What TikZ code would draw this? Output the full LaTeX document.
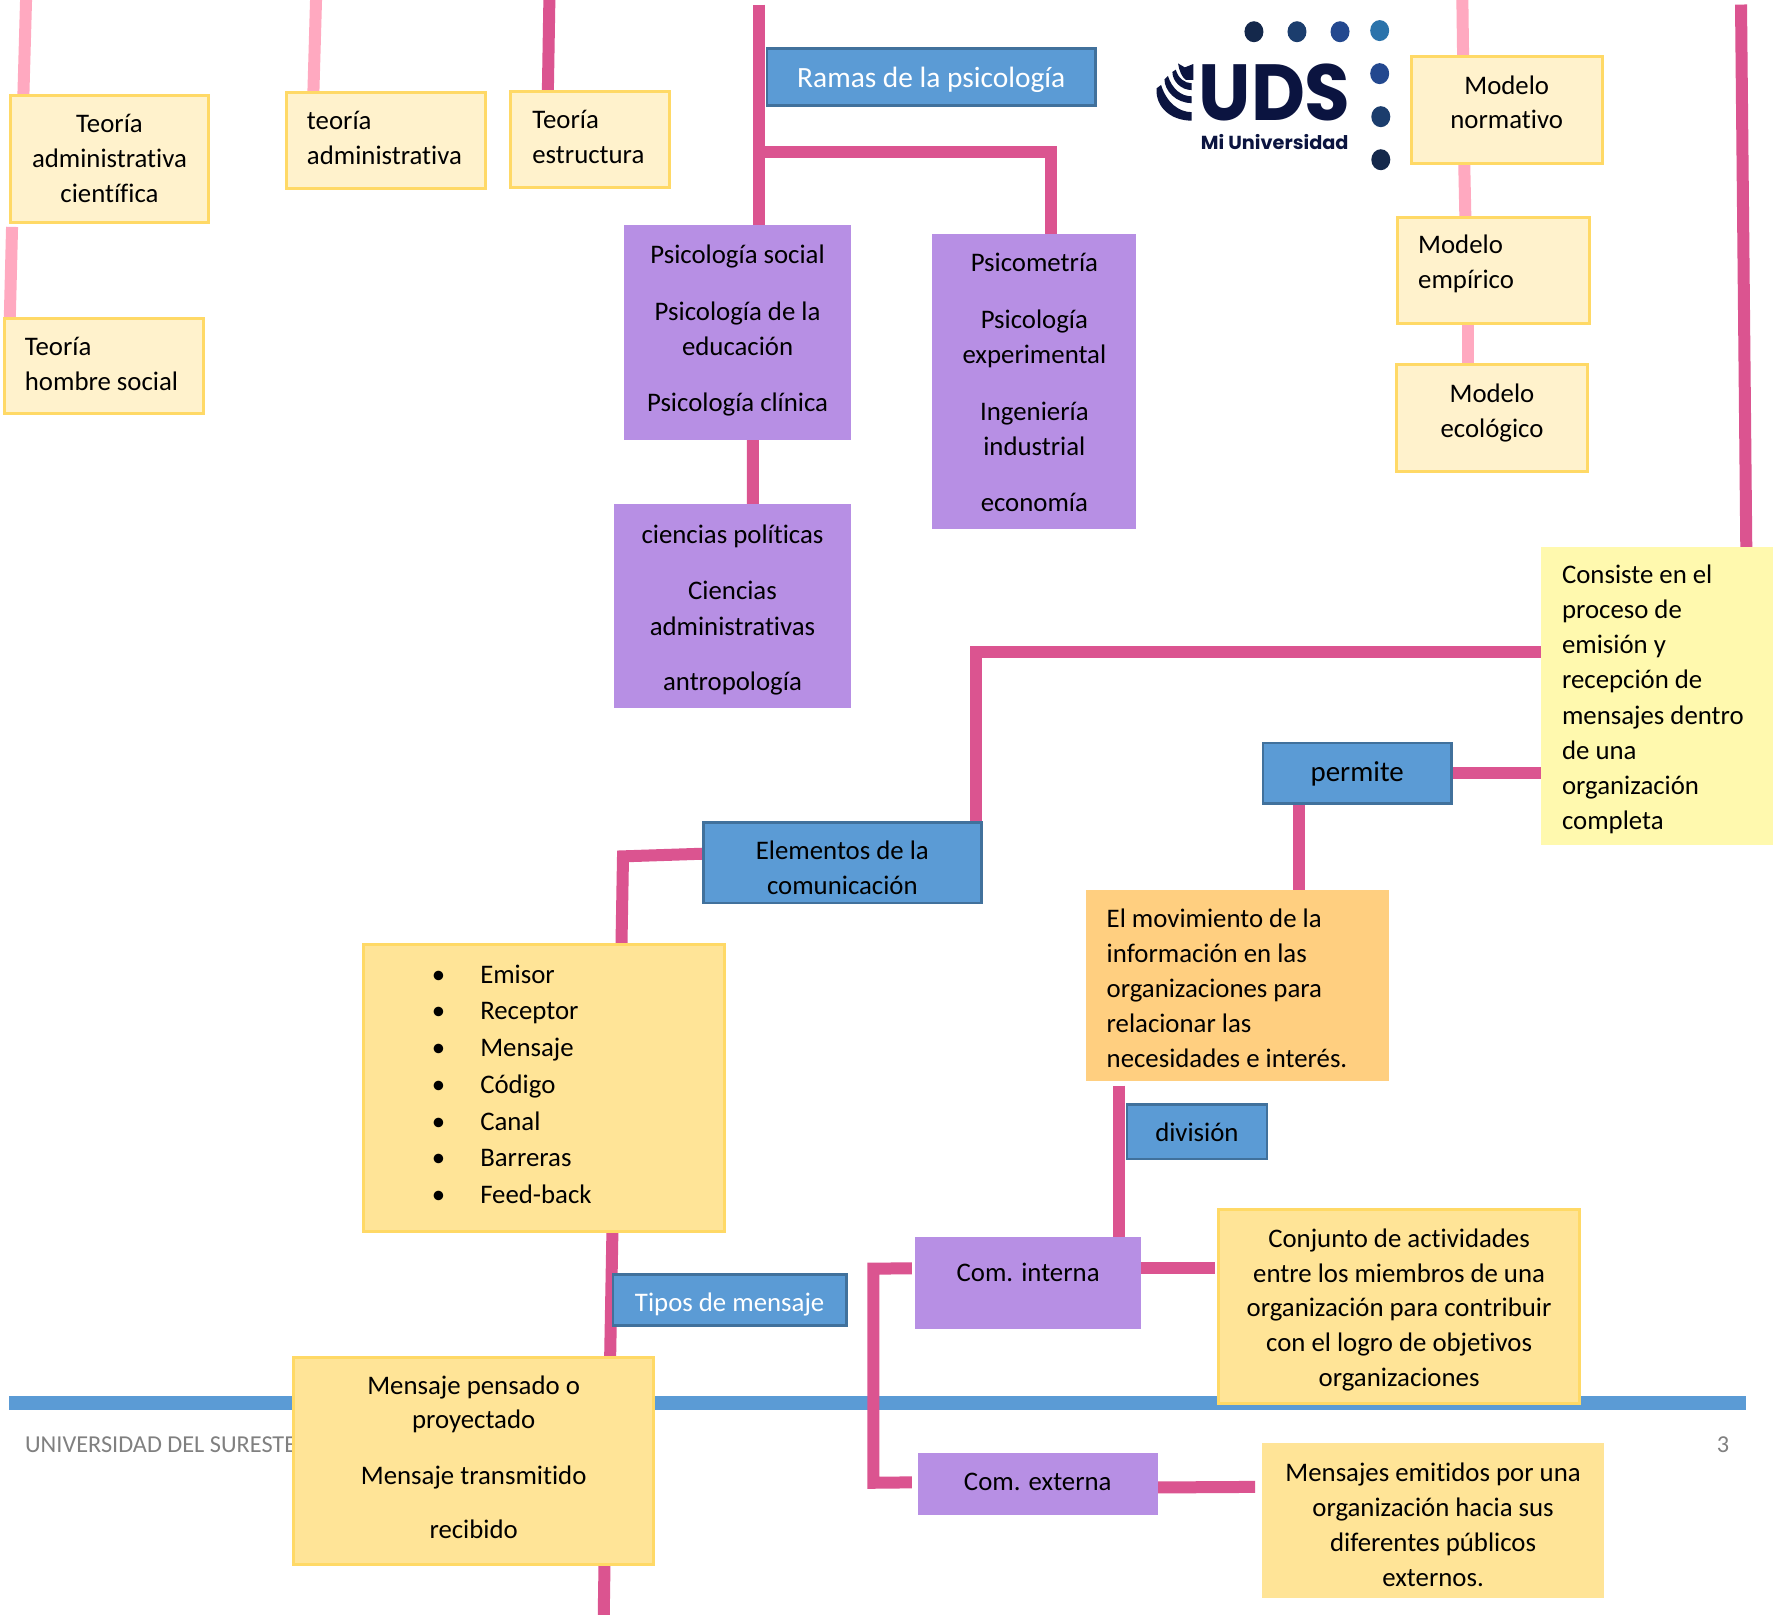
\documentclass[tikz,border=0pt]{standalone}
\usepackage{fontspec}
\setmainfont[Ligatures=NoCommon]{Carlito}
\newfontfamily\logofont{Poppins}
\usetikzlibrary{calc,backgrounds,shapes.geometric}
\newcommand\lf[1]{\raggedright\pgfmathparse{#1*1.13274}\leftskip=\pgfmathresult pt\relax}
\newcommand\bul{\leavevmode\llap{•\hspace{35pt}}}
\newcommand\bx[9]{%
  \pgfmathsetmacro\bxW{(#5-#3-0.7)*1.13274}%
  \pgfmathsetmacro\bxH{(#6-#4-0.7)*1.13274}%
  \pgfmathsetmacro\bxP{(#7-#4)*1.13274}%
  \node[#2,minimum width=\bxW pt,minimum height=\bxH pt,inner sep=0pt,outer sep=0pt] (#1) at ({(#3+#5-0.7)/2},{(#4+#6-0.7)/2})
  {\begin{minipage}[c][\bxH pt][t]{\bxW pt}\fontsize{26.8}{35.2}\selectfont #8\rule{0pt}{\bxP pt}#9\end{minipage}};}
\definecolor{pale}{HTML}{FFF2CC}
\definecolor{gold}{HTML}{FFD966}
\definecolor{blu}{HTML}{5B9BD5}
\definecolor{blud}{HTML}{41719C}
\definecolor{purp}{HTML}{B78FE4}
\definecolor{lem}{HTML}{FFF9AE}
\definecolor{org}{HTML}{FFCF80}
\definecolor{yel}{HTML}{FFE497}
\definecolor{rosa}{HTML}{FFA9C0}
\definecolor{mag}{HTML}{DB5490}
\definecolor{navy}{HTML}{0B1440}
\tikzset{
  palebox/.style={fill=pale,draw=gold,line width=3pt},
  yelbox/.style={fill=yel,draw=gold,line width=3pt},
  yelflat/.style={fill=yel},
  bluebox/.style={fill=blu,draw=blud,line width=2.5pt},
  purpbox/.style={fill=purp},
  lembox/.style={fill=lem},
  orgbox/.style={fill=org},
  lnp/.style={draw=rosa,line width=12pt},
  lnm/.style={draw=mag,line width=12pt,line join=miter},
  dotc/.style={ellipse,minimum width=19pt,minimum height=21pt,inner sep=0pt}
}
\begin{document}
\begin{tikzpicture}[x=1.13274pt,y=-1.13274pt]
\useasboundingbox (0,0) rectangle (1567,1425.7);
% footer
\node[anchor=base west,inner sep=0pt,text=black!50] (foot) at (22,1282.5) {\fontsize{24.3}{28}\selectfont UNIVERSIDAD DEL SURESTE};
\node[anchor=base,inner sep=0pt,text=black!50] (pnum) at (1521,1282.5) {\fontsize{24.3}{28}\selectfont 3};
% boxes
\bx{tA}{palebox}{9}{84}{185}{197}{117}{\centering}{Teoría\\administrativa\\científica}
\bx{tB}{palebox}{253}{82}{429}{167}{114}{\lf{18}}{teoría\\administrativa}
\bx{tC}{palebox}{451}{81}{592}{166}{113}{\lf{19}}{Teoría\\estructura}
\bx{tD}{palebox}{4}{281}{180}{366}{314}{\lf{18}}{Teoría\\hombre social}
\bx{ramas}{bluebox,text=white}{677}{43}{968}{94}{77}{\centering\fontsize{29.4}{35}\selectfont}{Ramas de la psicología}
\bx{mA}{palebox}{1246}{50}{1415}{145}{83}{\centering\baselineskip=34.5pt\relax}{Modelo\\normativo}
\bx{mB}{palebox}{1234}{192}{1404}{286}{224}{\lf{18}}{Modelo\\empírico}
\bx{mC}{palebox}{1233}{322}{1402}{417}{355}{\centering}{Modelo\\ecológico}
\bx{psoc}{purpbox}{551}{199}{752}{389}{233}{\centering}{Psicología social\\[21pt]Psicología de la\\educación\\[21pt]Psicología clínica}
\bx{psm}{purpbox}{823}{207}{1004}{468}{240}{\centering}{Psicometría\\[21pt]Psicología\\experimental\\[22pt]Ingeniería\\industrial\\[21pt]economía}
\bx{cpol}{purpbox}{542}{445}{752}{626}{480}{\centering}{ciencias políticas\\[21pt]Ciencias\\administrativas\\[20pt]antropología}
\bx{cons}{lembox}{1360}{483}{1566}{747}{515}{\lf{19}}{Consiste en el\\proceso de\\emisión y\\recepción de\\mensajes dentro\\de una\\organización\\completa}
\bx{perm}{bluebox}{1115}{656}{1282}{710}{690}{\centering\fontsize{28.9}{35}\selectfont}{permite}
\bx{elem}{bluebox}{621}{726}{867}{798}{758.5}{\centering}{Elementos de la\\comunicación}
\bx{mov}{orgbox}{959}{786}{1227}{955}{818.5}{\lf{18}}{El movimiento de la\\información en las\\organizaciones para\\relacionar las\\necesidades e interés.}
\bx{divi}{bluebox}{995}{975}{1119}{1024}{1007.5}{\centering}{división}
\bx{lst}{yelbox}{321}{834}{640}{1088}{868}{\lf{103}\baselineskip=36.7pt\relax}{\bul Emisor\\\bul Receptor\\\bul Mensaje\\\bul Código\\\bul Canal\\\bul Barreras\\\bul Feed-back}
\bx{tipos}{bluebox,text=white}{541}{1125}{748}{1171}{1157.5}{\centering}{Tipos de mensaje}
\bx{men}{yelbox}{259}{1198}{578}{1382}{1231}{\centering\baselineskip=34.5pt\relax}{Mensaje pensado o\\proyectado\\[21pt]Mensaje transmitido\\[20pt]recibido}
\bx{cint}{purpbox}{808}{1092}{1008}{1174}{1131}{\centering}{Com. interna}
\bx{conj}{yelbox}{1076}{1068}{1395}{1240}{1101}{\centering\baselineskip=34.9pt\relax}{Conjunto de actividades\\entre los miembros de una\\organización para contribuir\\con el logro de objetivos\\organizaciones}
\bx{cext}{purpbox}{810}{1283}{1023}{1338}{1315.5}{\centering}{Com. externa}
\bx{memi}{yelflat}{1114}{1274}{1417}{1411}{1307.5}{\centering}{Mensajes emitidos por una\\organización hacia sus\\diferentes públicos\\externos.}
% logo
\foreach \n/\x/\y/\c in {a/1107/28/14284B,b/1145/28/1B3D6D,c/1183/28/23488F,d/1218/27/2B73AB,e/1218/65/23488F,f/1219/103/1B3D6D,g/1219/141/14284B}{
  \definecolor{tmpc}{HTML}{\c}
  \node[dotc,fill=tmpc] (dot\n) at (\x,\y) {};
}
\node[anchor=base west,inner sep=0pt,text=navy] (uds) at (1058,106) {\resizebox{152pt}{56.6pt}{\logofont\bfseries UDS}};
\node[anchor=base west,inner sep=0pt,text=navy] (miu) at (1060,132.4) {\resizebox{147.6pt}{15.1pt}{\logofont\bfseries Mi Universidad}};
\fill[navy] (1021,78) .. controls (1020,95) and (1034,106.5) .. (1052,106.5) -- (1052,99) .. controls (1041,99) and (1030,91) .. (1025,75) -- cycle;
\fill[navy] (1028,70) .. controls (1028,80) and (1038,91) .. (1052,91) -- (1052,85) .. controls (1043,85) and (1035,79) .. (1031,67) -- cycle;
\fill[navy] (1035,63.5) .. controls (1035,72) and (1043,79.5) .. (1052,79.5) -- (1052,73.5) .. controls (1046,73.5) and (1040,69) .. (1038,61.5) -- cycle;
\fill[navy] (1040,56) -- (1046,59.5) -- (1053.5,56.5) -- (1053.5,70.6) -- (1047,70.6) .. controls (1043,68) and (1041,62) .. (1040,56) -- cycle;
% connectors
\begin{scope}[on background layer]
\fill[white] (0,0) rectangle (1567,1425.7);
\fill[blu] (8,1232) rectangle (1541,1245);
\coordinate (f1) at (23,0);
\coordinate (f2) at (279,0);
\coordinate (f3) at (485,0);
\coordinate (f4) at (670,4);
\coordinate (f5) at (1291,0);
\coordinate (f6) at (1537,4);
\coordinate (f7) at (533,1426);
\draw[lnp] (f1) -- ($(tA.north)+(-76,0)$);
\draw[lnp] ($(tA.south)+(-86,4)$) -- ($(tD.north)+(-83,0)$);
\draw[lnp] (f2) -- ($(tB.north)+(-64,0)$);
\draw[lnm] (f3) -- ($(tC.north)+(-37.5,0)$);
\draw[lnm] (f4) -- (f4 |- psoc.north);
\draw[lnm] ($(f4)+(5,130)$) -| ($(psm.north)+(14.5,0)$);
\draw[lnm] ($(psoc.south)+(13.5,0)$) -- ($(cpol.north)+(18,0)$);
\draw[lnp] (f5) -- ($(mA.north)+(-38.5,0)$);
\draw[lnp] ($(mA.south)+(-37.5,0)$) -- ($(mB.north)+(-25,0)$);
\draw[lnp] ($(mB.south)+(-23,0)$) -- ($(mC.north)+(-21.5,0)$);
\draw[lnm] (f6) -- ($(cons.north)+(79,0)$);
\draw[lnm] ($(cons.west)+(0,-39)$) -| ($(elem.north)+(118,0)$);
\draw[lnm] (perm.east) -- (perm.east -| cons.west);
\draw[lnm] ($(perm.south)+(-51.5,0)$) -- ($(mov.north)+(54,0)$);
\draw[lnm] ($(mov.south)+(-105,4)$) -- ($(cint.north)+(80,0)$);
\draw[lnm] ($(elem.west)+(0,-8)$) -- (550,756) -- ($(lst.north)+(68.5,0)$);
\draw[lnm] ($(lst.south)+(60.5,0)$) -- ($(men.north)+(120.5,0)$);
\draw[lnm] ($(men.south)+(115.5,0)$) -- (f7);
\draw[lnm] ($(cint.west)+(-3,-13)$) -- (771,1120) -- (771,1309) -- ($(cext.west)+(-5,-1.5)$);
\draw[lnm] ($(cint.east)+(-3,-13)$) -- ($(conj.west)+(-3,-34)$);
\draw[lnm] ($(cext.east)+(0,3)$) -- ($(memi.west)+(-6,-29.5)$);
\end{scope}
\end{tikzpicture}
\end{document}
